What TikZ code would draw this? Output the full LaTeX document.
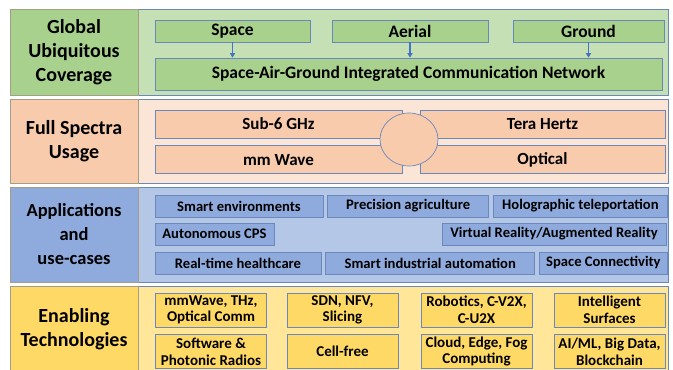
\documentclass[tikz,border=0pt]{standalone}
\usepackage{fontspec}
\setmainfont{Carlito}
\usepackage{xcolor}
\usepackage{tikz}
\usetikzlibrary{positioning,shapes.geometric,arrows.meta}
\definecolor{greendark}{HTML}{A9D18E}
\definecolor{greenlight}{HTML}{C5E0B4}
\definecolor{peachdark}{HTML}{F8CBAD}
\definecolor{peachlight}{HTML}{FBE5D6}
\definecolor{bluedark}{HTML}{8FAADC}
\definecolor{bluelight}{HTML}{B4C7E7}
\definecolor{golddark}{HTML}{FFD966}
\definecolor{goldlight}{HTML}{FFE699}
\definecolor{edge}{HTML}{6B88BC}
\definecolor{labeledge}{HTML}{A39E85}
\definecolor{accent}{HTML}{4472C4}

\begin{document}
\begin{tikzpicture}[
        x=1pt, y=-1pt,
        every node/.style={
            rectangle,
            draw=edge,
            line width=0.7pt,
            text=black,
            align=center,
            inner sep=1pt,
            font=\bfseries
        },
        panel/.style={
            draw=edge,
            line width=0.8pt
        },
        rowlabel/.style={
            draw=labeledge,
            line width=0.8pt,
            minimum width=128pt,
            minimum height=86pt,
            font=\bfseries\fontsize{20}{24}\selectfont
        },
        sagbox/.style={
            fill=greendark,
            minimum height=22pt,
            font=\bfseries\fontsize{17.5}{20}\selectfont
        },
        bandbox/.style={
            fill=peachdark,
            minimum width=247pt,
            minimum height=28pt,
            font=\bfseries\fontsize{17}{20}\selectfont
        },
        appbox/.style={
            fill=bluedark,
            minimum height=22pt,
            font=\bfseries\fontsize{14.6}{17}\selectfont
        },
        techbox/.style={
            fill=golddark,
            minimum width=111pt,
            minimum height=34pt,
            font=\bfseries\fontsize{15}{16.5}\selectfont
        },
        arrow/.style={
            -{Triangle[length=4.5pt,width=5pt]},
            line width=1.2pt,
            color=accent
        }
    ]
        \useasboundingbox (0,0) rectangle (673,370);

        % Global ubiquitous coverage
        \draw[panel, fill=greenlight] (10,9) rectangle (668,95);
        \node[rowlabel, fill=greendark] (global) at (74,52) {Global\\Ubiquitous\\Coverage};
        \node[sagbox, minimum width=155pt] (space) at (232.5,31) {Space};
        \node[sagbox, minimum width=156pt] (aerial) at (410,31) {Aerial};
        \node[sagbox, minimum width=151pt] (ground) at (588.5,31) {Ground};
        \node[sagbox, minimum width=507pt, minimum height=32pt] (sagin) at (408.5,74) {Space-Air-Ground Integrated Communication Network};

        \draw[arrow] (space) -- (space |- sagin.north);
        \draw[arrow] (aerial) -- (aerial |- sagin.north);
        \draw[arrow] (ground) -- (ground |- sagin.north);

        % Full spectra
        \draw[panel, fill=peachlight] (10,99) rectangle (668,183);
        \node[rowlabel, fill=peachdark, minimum height=84pt] (spectra) at (74,141) {Full Spectra\\Usage};
        \node[bandbox] (sub6) at (278.5,124) {Sub-6 GHz};
        \node[bandbox] (mmwave) [below=7pt of sub6] {mm Wave};
        \node[bandbox, minimum width=245pt] (thz) at (542.5,124) {Tera Hertz};
        \node[bandbox, minimum width=245pt] (optical) [below=7pt of thz] {Optical};
        \node[ellipse, fill=peachdark, inner sep=0pt, minimum width=58pt, minimum height=53pt] (hub) at (409,139.5) {};

        % Applications and use-cases
        \draw[panel, fill=bluelight] (10,187) rectangle (668,282);
        \node[rowlabel, fill=bluedark, minimum height=95pt, font=\bfseries\fontsize{18.5}{24}\selectfont] (apps) at (74,234.5) {Applications\\and\\use-cases};
        \node[appbox, minimum width=168pt] (smartenv) at (239,206) {Smart environments};
        \node[appbox, minimum width=161pt] (agri) [right=4pt of smartenv] {Precision agriculture};
        \node[appbox, minimum width=174pt] (holo) [right=4pt of agri] {Holographic teleportation};
        \node[appbox, minimum width=119pt] (cps) at (214.5,234) {Autonomous CPS};
        \node[appbox, minimum width=224pt] (vrar) at (554,234) {Virtual Reality/Augmented Reality};
        \node[appbox, minimum width=166pt] (health) at (238,263) {Real-time healthcare};
        \node[appbox, minimum width=209pt] (industry) [right=4pt of health] {Smart industrial automation};
        \node[appbox, minimum width=128pt] (spaceconn) [right=4pt of industry] {Space Connectivity};

        % Enabling technologies
        \draw[panel, fill=goldlight] (10,286) rectangle (668,373);
        \node[rowlabel, fill=golddark, minimum height=87pt] (enabling) at (74,329.5) {Enabling\\Technologies};
        \node[techbox] (radio) at (211,310) {mmWave, THz,\\Optical Comm};
        \node[techbox] (sdn) at (342.5,310) {SDN, NFV,\\Slicing};
        \node[techbox] (robotics) at (476.5,310) {Robotics, C-V2X,\\C-U2X};
        \node[techbox] (surfaces) at (609.5,310) {Intelligent\\Surfaces};
        \node[techbox] (photonic) [below=7pt of radio] {Software \&\\Photonic Radios};
        \node[techbox] (cellfree) [below=7pt of sdn] {Cell-free};
        \node[techbox] (cloud) [below=7pt of robotics] {Cloud, Edge, Fog\\Computing};
        \node[techbox] (aiml) [below=7pt of surfaces] {AI/ML, Big Data,\\Blockchain};
    \end{tikzpicture}
\end{document}
